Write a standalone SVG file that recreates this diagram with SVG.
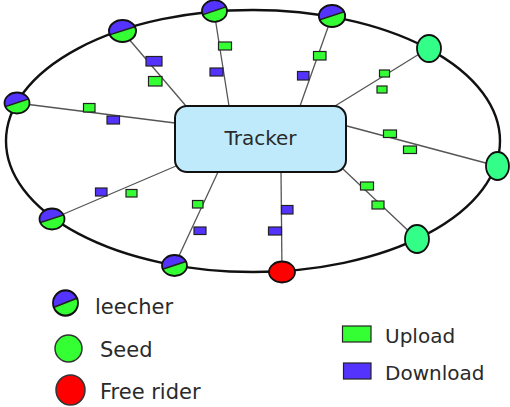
<svg xmlns="http://www.w3.org/2000/svg" xmlns:xlink="http://www.w3.org/1999/xlink" width="510" height="407" viewBox="0 0 510 407">
  <style>
    .ring { fill: none; stroke: #111; stroke-width: 2.4; }
    .link { stroke: #555; stroke-width: 1.3; fill: none; }
    .up { fill: #33ff33; stroke: #222; stroke-width: 1.2; }
    .down { fill: #5533ff; stroke: #222; stroke-width: 1.2; }
    .seed { fill: #33ff88; stroke: #111; stroke-width: 1.8; }
    .rider { fill: #ff0000; stroke: #111; stroke-width: 1.8; }
    .tracker { fill: #bfeafc; stroke: #111; stroke-width: 2; }
    .label { font-family: "DejaVu Sans", Verdana, sans-serif; fill: #2a2a2a; }
  </style>
  <defs>
    <clipPath id="leecherClip"><ellipse cx="0" cy="0" rx="12.5" ry="10.5"/></clipPath>
    <!-- half download (top) / half upload (bottom) peer -->
    <g id="leecherIcon">
      <ellipse cx="0" cy="0" rx="12.5" ry="10.5" fill="#33ff33"/>
      <polygon points="-14,4 14,-5 14,-12 -14,-12" fill="#5533ff" clip-path="url(#leecherClip)"/>
      <line x1="-13" y1="4" x2="13" y2="-4.5" stroke="#222" stroke-width="1.5" clip-path="url(#leecherClip)"/>
      <ellipse cx="0" cy="0" rx="12.5" ry="10.5" fill="none" stroke="#111" stroke-width="1.8"/>
    </g>
  </defs>

  <!-- swarm ring -->
  <ellipse class="ring" cx="253" cy="141" rx="247" ry="131"/>

  <!-- connectors between peers and tracker, with traffic markers -->
  <g id="connectors">
    <line class="link" x1="17" y1="103" x2="175" y2="123"/>
    <line class="link" x1="122" y1="31" x2="186" y2="106"/>
    <line class="link" x1="214" y1="11" x2="229" y2="106"/>
    <line class="link" x1="332" y1="16" x2="300" y2="106"/>
    <line class="link" x1="429" y1="48" x2="335" y2="106"/>
    <line class="link" x1="497" y1="166" x2="347" y2="126"/>
    <line class="link" x1="417" y1="239" x2="343" y2="169"/>
    <line class="link" x1="282" y1="272" x2="281" y2="172"/>
    <line class="link" x1="174.5" y1="265.5" x2="218" y2="172"/>
    <line class="link" x1="52" y1="219" x2="176" y2="166"/>

    <rect class="down" x="146" y="56.5" width="16" height="9.5"/>
    <rect class="up" x="148.5" y="76.5" width="13.5" height="9.5"/>
    <rect class="up" x="218.5" y="42" width="13" height="8"/>
    <rect class="down" x="210" y="68" width="13" height="8"/>
    <rect class="up" x="83.5" y="103.5" width="11.5" height="8.5"/>
    <rect class="down" x="107" y="116" width="12.5" height="8"/>
    <rect class="up" x="313.5" y="51.5" width="12.5" height="8.5"/>
    <rect class="down" x="297.5" y="71.5" width="11.5" height="8.5"/>
    <rect class="up" x="379.5" y="70" width="10" height="7"/>
    <rect class="up" x="377" y="86" width="10" height="7"/>
    <rect class="up" x="383.5" y="130" width="13" height="7.5"/>
    <rect class="up" x="403.5" y="146" width="13" height="7.5"/>
    <rect class="up" x="360.5" y="182" width="13" height="8"/>
    <rect class="up" x="372" y="201" width="12" height="8"/>
    <rect class="down" x="281.5" y="205.5" width="11.5" height="8.5"/>
    <rect class="down" x="268.5" y="227" width="13" height="8"/>
    <rect class="down" x="95.5" y="188" width="11.5" height="8"/>
    <rect class="up" x="126" y="189.5" width="11" height="7.5"/>
    <rect class="up" x="192.5" y="200.5" width="10.5" height="7.5"/>
    <rect class="down" x="194" y="227" width="12" height="7.5"/>
  </g>

  <!-- tracker -->
  <g id="tracker">
    <rect class="tracker" x="175" y="106" width="171" height="66" rx="12" ry="12"/>
    <text class="label" x="260.5" y="145" font-size="20" text-anchor="middle">Tracker</text>
  </g>

  <!-- peers on the ring -->
  <g id="leecher1"><use xlink:href="#leecherIcon" transform="translate(17,103)"/></g>
  <g id="leecher2"><use xlink:href="#leecherIcon" transform="translate(122.5,31) scale(1.08,1.05)"/></g>
  <g id="leecher3"><use xlink:href="#leecherIcon" transform="translate(214.5,11) scale(1,1.03)"/></g>
  <g id="leecher4"><use xlink:href="#leecherIcon" transform="translate(332,16) scale(1.05,1.05)"/></g>
  <g id="leecher5"><use xlink:href="#leecherIcon" transform="translate(174.5,265.5)"/></g>
  <g id="leecher6"><use xlink:href="#leecherIcon" transform="translate(52,219)"/></g>
  <g id="seed1"><ellipse class="seed" cx="429" cy="48.5" rx="12" ry="13.5"/></g>
  <g id="seed2"><ellipse class="seed" cx="497.5" cy="166" rx="11.5" ry="14"/></g>
  <g id="seed3"><ellipse class="seed" cx="417" cy="239" rx="12" ry="14"/></g>
  <g id="freeRider"><ellipse class="rider" cx="282" cy="272" rx="13" ry="10.5"/></g>

  <!-- legend -->
  <g id="legendLeecher">
    <use xlink:href="#leecherIcon" transform="translate(65.5,303) scale(1,1.2)"/>
    <text class="label" x="95" y="314" font-size="21">leecher</text>
  </g>
  <g id="legendSeed">
    <circle cx="68.5" cy="348.5" r="13.5" fill="#33ff33" stroke="#333" stroke-width="1.5"/>
    <text class="label" x="100" y="357" font-size="21">Seed</text>
  </g>
  <g id="legendFreeRider">
    <ellipse cx="70.5" cy="390" rx="14.5" ry="15" fill="#ff0000" stroke="#333" stroke-width="1.5"/>
    <text class="label" x="100" y="399" font-size="21">Free rider</text>
  </g>
  <g id="legendUpload">
    <rect class="up" x="342.5" y="326" width="28.5" height="16"/>
    <text class="label" x="385" y="343" font-size="20">Upload</text>
  </g>
  <g id="legendDownload">
    <rect class="down" x="343.5" y="363" width="27.5" height="16"/>
    <text class="label" x="385" y="380" font-size="20">Download</text>
  </g>
</svg>
